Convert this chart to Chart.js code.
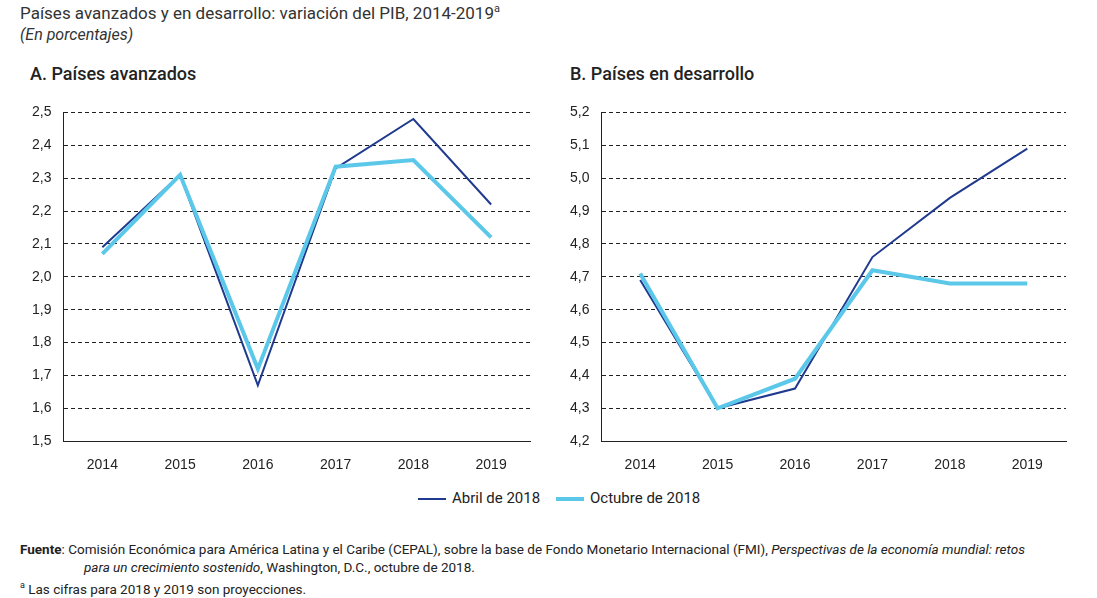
<!DOCTYPE html>
<html><head><meta charset="utf-8">
<script src="https://cdn.jsdelivr.net/npm/chart.js@4"></script>
<style>
body{margin:0;width:1097px;height:598px;background:#fff;font-family:Roboto,"Liberation Sans",sans-serif;color:#222;position:relative;overflow:hidden}
.t{position:absolute;white-space:nowrap}
.box{position:absolute}
</style></head><body>
<div class="t" style="left:20px;top:2px;font-size:17px;color:#333">Países avanzados y en desarrollo: variación del PIB, 2014-2019<sup style="font-size:11px">a</sup></div>
<div class="t" style="left:20px;top:25px;font-size:16px;font-style:italic;color:#333">(En porcentajes)</div>
<div class="t" style="left:30px;top:63px;font-size:18px;font-weight:500">A. Países avanzados</div>
<div class="t" style="left:570px;top:63px;font-size:18px;font-weight:500">B. Países en desarrollo</div>
<div class="box" style="left:20px;top:92px;width:514px;height:390px"><canvas id="a"></canvas></div>
<div class="box" style="left:558px;top:92px;width:512px;height:390px"><canvas id="b"></canvas></div>
<div class="t" style="left:418px;top:489px;font-size:15px"><span style="display:inline-block;width:28px;height:2px;background:#1f3a8f;vertical-align:middle;margin-right:6px"></span>Abril de 2018</div>
<div class="t" style="left:556px;top:489px;font-size:15px"><span style="display:inline-block;width:28px;height:4px;background:#5bc8ea;vertical-align:middle;margin-right:6px"></span>Octubre de 2018</div>
<div class="t" style="left:20px;top:540px;font-size:13.5px;line-height:18px"><b>Fuente</b>: Comisión Económica para América Latina y el Caribe (CEPAL), sobre la base de Fondo Monetario Internacional (FMI), <i>Perspectivas de la economía mundial: retos</i><br><span style="padding-left:64px"><i>para un crecimiento sostenido</i>, Washington, D.C., octubre de 2018.</span><br><sup style="font-size:9px">a</sup> Las cifras para 2018 y 2019 son proyecciones.</div>
<script>
const years = ['2014','2015','2016','2017','2018','2019'];
const advAbril = [2.09, 2.31, 1.67, 2.33, 2.48, 2.22];
const advOctubre = [2.07, 2.31, 1.72, 2.335, 2.355, 2.12];
const desAbril = [4.69, 4.30, 4.36, 4.76, 4.94, 5.09];
const desOctubre = [4.71, 4.30, 4.39, 4.72, 4.68, 4.68];

function make(id, abril, octubre, min, max){
  new Chart(document.getElementById(id), {
    type: 'line',
    data: {labels: years, datasets: [
      {data: octubre, borderColor: '#5bc8ea', borderWidth: 4, pointRadius: 0, tension: 0},
      {data: abril, borderColor: '#1f3a8f', borderWidth: 2, pointRadius: 0, tension: 0}
    ]},
    options: {
      responsive: true, maintainAspectRatio: false, animation: false,
      layout: {padding: {top: 6, right: 4}},
      plugins: {legend: {display: false}, tooltip: {enabled: false}},
      scales: {
        x: {offset: true, grid: {display: false}, border: {color: '#222'},
            ticks: {color: '#222', font: {size: 14}, padding: 8}},
        y: {min: min, max: max, border: {color: '#222', dash: [4, 3]},
            grid: {color: '#222', drawTicks: false},
            ticks: {stepSize: 0.1, color: '#222', font: {size: 14}, padding: 12,
              callback: v => v.toFixed(1).replace('.', ',')}}
      }
    }
  });
}
make('a', advAbril, advOctubre, 1.5, 2.5);
make('b', desAbril, desOctubre, 4.2, 5.2);
</script>
</body></html>
